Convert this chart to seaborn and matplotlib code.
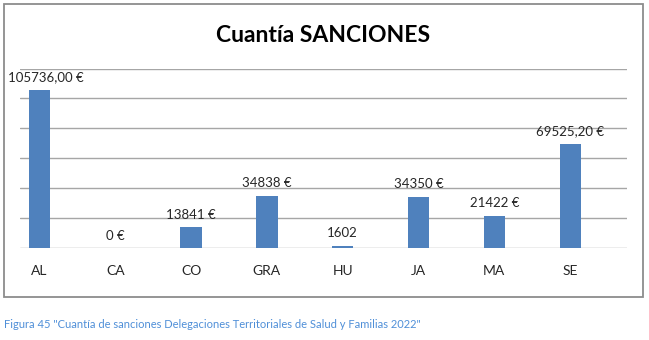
import matplotlib
matplotlib.use("Agg")
import matplotlib.pyplot as plt
import seaborn as sns
import pandas as pd
from matplotlib.patches import Rectangle

# Sanction amounts per territorial delegation (euros)
delegaciones = ["AL", "CA", "CO", "GRA", "HU", "JA", "MA", "SE"]
importes = [105736.00, 0, 13841, 34838, 1602, 34350, 21422, 69525.20]
etiquetas = ["105736,00 €", "0 €", "13841 €", "34838 €", "1602", "34350 €", "21422 €", "69525,20 €"]
titulo = "Cuantía SANCIONES"
pie = 'Figura 45 "Cuantía de sanciones Delegaciones Territoriales de Salud y Familias 2022"'

sns.set_theme(style="white")
plt.rcParams["font.family"] = ["Lato", "DejaVu Sans"]

df = pd.DataFrame({"delegacion": delegaciones, "importe": importes})

W, H = 649, 340
fig = plt.figure(figsize=(W / 100, H / 100), dpi=100)
ax = fig.add_axes([20 / W, 1 - 248 / H, (627 - 20) / W, (248 - 68.5) / H])

sns.barplot(data=df, x="delegacion", y="importe", color="#4F81BD",
            width=0.28, saturation=1, ax=ax, edgecolor="none", zorder=3)

ax.set_ylim(0, 120000)
ax.set_yticks(range(0, 120001, 20000))
ax.set_xlim(-0.257, 7.75)
ax.yaxis.grid(True, color="#A6A6A6", linewidth=1.0, zorder=0)
ax.set_yticklabels([])
ax.set_xlabel("")
ax.set_ylabel("")
for s in ax.spines.values():
    s.set_visible(False)
ax.tick_params(axis="x", length=0, pad=12, labelsize=10, labelcolor="#262626")
ax.tick_params(axis="y", length=0)

# value labels above each bar, kept inside the chart frame
fig.canvas.draw()
renderer = fig.canvas.get_renderer()
frame_left = 8
for bar, txt in zip(ax.patches, etiquetas):
    cx = bar.get_x() + bar.get_width() / 2
    ann = ax.annotate(txt, (cx, bar.get_height()), xytext=(0, 9), textcoords="offset points",
                      ha="center", va="center", fontsize=9.5, color="#262626",
                      annotation_clip=False)
    bb = ann.get_window_extent(renderer)
    if bb.x0 < frame_left:
        ann.xyann = (0 + (frame_left - bb.x0) * 72 / fig.dpi, 9)

fig.text(323 / W, 1 - 36 / H, titulo, ha="center", va="center",
         fontsize=16.5, fontweight="bold", color="black")

fig.patches.append(Rectangle((4 / W, 1 - 297 / H), (643 - 4) / W, (297 - 4) / H,
                             transform=fig.transFigure, fill=False,
                             edgecolor="#8C8C8C", linewidth=1.3))

fig.text(4 / W, 1 - 325 / H, pie, ha="left", va="center",
         fontsize=8, color="#4F8FD8")

fig.savefig("out.png", dpi=100)
